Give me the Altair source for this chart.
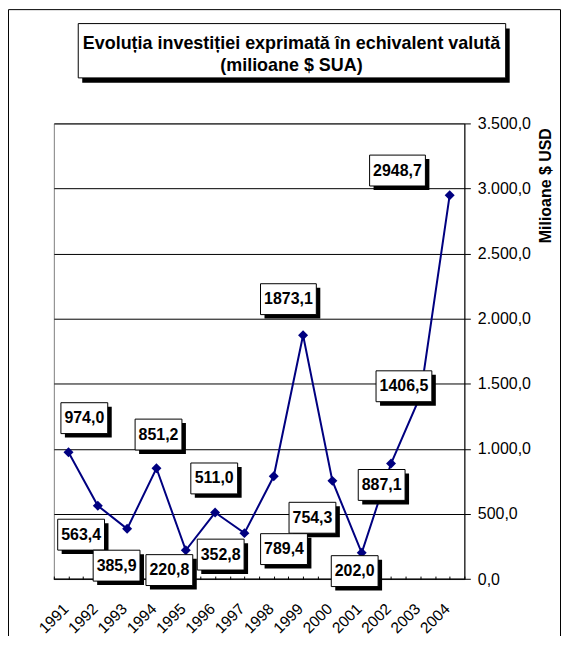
import altair as alt
import pandas as pd

# ---------------- data ----------------
years = ["1991", "1992", "1993", "1994", "1995", "1996", "1997",
         "1998", "1999", "2000", "2001", "2002", "2003", "2004"]
values = [974.0, 563.4, 385.9, 851.2, 220.8, 511.0, 352.8,
          789.4, 1873.1, 754.3, 202.0, 887.1, 1406.5, 2948.7]
# where each boxed data label sits (category offset from its point, value level)
label_dx = [0.54, -0.57, -0.36, 0.07, -0.56, -0.03, -0.81,
            0.35, -0.50, -0.68, -0.24, -0.32, -0.56, -1.78]
label_level = [1236, 341, 103, 1110, 69, 773, 188,
               230, 2150, 471, 61, 723, 1481, 3138]
y_ticks = [0, 500, 1000, 1500, 2000, 2500, 3000, 3500]
title_lines = ["Evoluția investiției exprimată în echivalent valută",
               "(milioane $ SUA)"]
y_title = "Milioane $ USD"

FONT = "Liberation Sans, Arial, Helvetica, sans-serif"
NAVY = "#000080"

n = len(years)
df = pd.DataFrame({
    "pos": [i + 0.5 for i in range(n)],
    "year": years,
    "value": values,
    "lpos": [i + 0.5 + d for i, d in enumerate(label_dx)],
    "llevel": label_level,
    "label": [f"{v:.1f}".replace(".", ",") for v in values],
})
one = pd.DataFrame({"k": [0]})

W, H = 412, 457.3
x_scale = alt.Scale(domain=[0, n], nice=False, zero=False)
y_scale = alt.Scale(domain=[0, 3500], nice=False)

years_arr = "[" + ",".join(f"'{y}'" for y in years) + "]"
year_expr = (f"(datum.value % 1) > 0.25 ? {years_arr}[floor(datum.value)] : ''")
num_expr = ("replace(replace(replace(format(datum.value, ',.1f'), ',', '#'), "
            "'.', ','), '#', '.')")

x_axis = alt.Axis(
    orient="bottom", values=[k * 0.5 for k in range(2 * n + 1)],
    labelExpr=year_expr, labelAngle=-45, labelAlign="right",
    labelBaseline="middle", labelFontSize=15.5, labelPadding=27, labelOffset=-3,
    ticks=True, tickSize=3, tickColor="black", tickWidth=1, offset=-3,
    domain=False, grid=False, title=None,
    labelOverlap=False, labelBound=False, labelFlush=False)
y_axis = alt.Axis(
    orient="right", values=y_ticks, labelExpr=num_expr, grid=True,
    gridColor="black", gridWidth=1, tickSize=6, tickColor="black",
    domainColor="black", labelPadding=7, labelFontSize=16, labelAlign="left",
    title=y_title, titleFontSize=16, titleFontWeight="bold", titleAngle=270,
    titleX=81, titleY=62, titleAlign="center", titleBaseline="middle")

# outer frame and title box (decorations)
frame = alt.Chart(one).mark_rect(filled=False, stroke="black", strokeWidth=1).encode(
    x=alt.value(-45.5), x2=alt.value(508.5), y=alt.value(-114.2), y2=alt.value(600))
title_shadow = alt.Chart(one).mark_rect(color="black").encode(
    x=alt.value(28.5), x2=alt.value(457.5), y=alt.value(-95.2), y2=alt.value(-40.7))
title_box = alt.Chart(one).mark_rect(fill="white", stroke="black", strokeWidth=1).encode(
    x=alt.value(24.5), x2=alt.value(453.5), y=alt.value(-100.2), y2=alt.value(-45.7))
title_text = alt.Chart(one).mark_text(
    font=FONT, fontSize=18, fontWeight="bold", color="black",
    align="center", baseline="middle", lineHeight=22).encode(
    x=alt.value(238.5), y=alt.value(-79.7), text=alt.value(title_lines))

base = alt.Chart(df)
X = alt.X("pos:Q", scale=x_scale, axis=x_axis)
Y = alt.Y("value:Q", scale=y_scale, axis=y_axis)

# black category axis line along value 0
axis_line = alt.Chart(one).mark_rule(color="black", strokeWidth=1).encode(
    x=alt.datum(0, scale=x_scale, axis=x_axis),
    x2=alt.datum(n),
    y=alt.datum(0, scale=y_scale, axis=y_axis))

line = base.mark_line(color=NAVY, strokeWidth=2).encode(x=X, y=Y)
points = base.mark_point(shape="diamond", filled=True, size=100, color=NAVY,
                         opacity=1).encode(x=X, y=Y)

box_narrow = "M-23.5,-15.5H23.5V15.5H-23.5Z"
box_wide = "M-28,-15.5H28V15.5H-28Z"
box_shape = alt.condition("length(datum.label) > 5",
                          alt.value(box_wide), alt.value(box_narrow))

lab_x = alt.X("lpos:Q", scale=x_scale, axis=x_axis)
lab_y = alt.Y("llevel:Q", scale=y_scale, axis=y_axis)
shadows = base.mark_point(filled=True, color="black", size=4, opacity=1,
                          xOffset=4, yOffset=4).encode(x=lab_x, y=lab_y, shape=box_shape)
boxes = base.mark_point(filled=True, fill="white", stroke="black", strokeWidth=1,
                        size=4, opacity=1).encode(x=lab_x, y=lab_y, shape=box_shape)
texts = base.mark_text(font=FONT, fontSize=16, fontWeight="bold", color="black",
                       align="center", baseline="middle").encode(
    x=lab_x, y=lab_y, text="label:N")

chart = alt.layer(
    frame, title_shadow, title_box, title_text,
    axis_line, line, points, shadows, boxes, texts
).properties(
    width=W, height=H,
    autosize=alt.AutoSizeParams(type="none"),
    padding={"left": 46, "top": 114.7, "right": 97, "bottom": 56},
).configure_view(stroke="#808080", strokeWidth=1).configure_axis(
    labelFont=FONT, titleFont=FONT, labelColor="black", titleColor="black")

chart.save("out.html", embed_options={"renderer": "svg", "actions": False})
